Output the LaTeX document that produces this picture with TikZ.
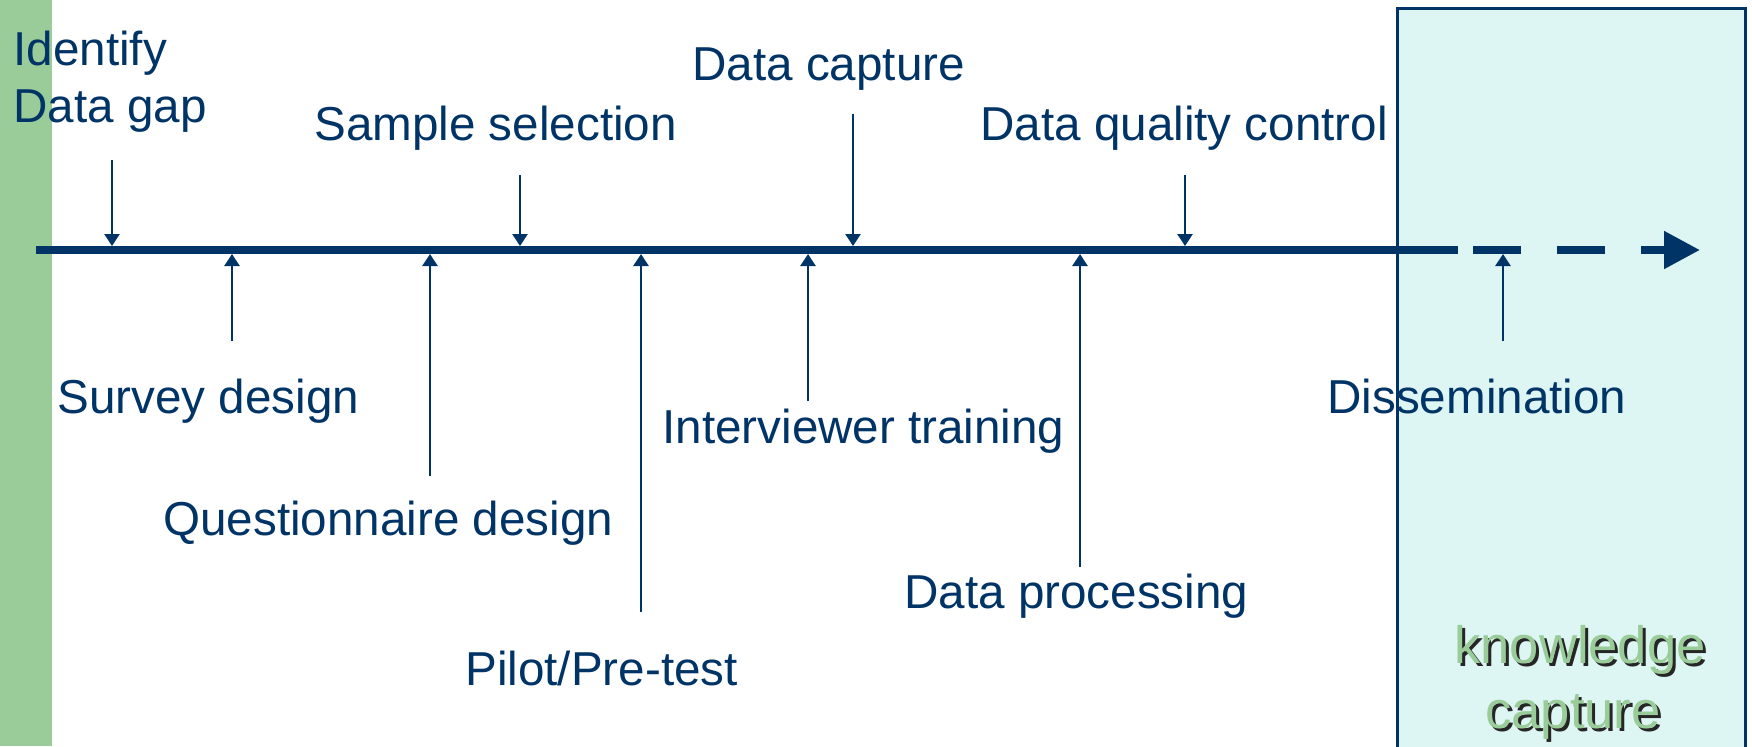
\documentclass[tikz,border=0pt]{standalone}
\usepackage{fontspec}
\setmainfont{Liberation Sans}
\usetikzlibrary{arrows.meta}
\definecolor{navy}{HTML}{003366}
\definecolor{bandgreen}{HTML}{99CC99}
\definecolor{boxfill}{HTML}{DDF5F3}
\tikzset{
  lbl/.style={anchor=base west, inner sep=0pt, text=navy, font=\fontsize{23.8}{28}\selectfont},
  kc/.style={anchor=base, inner sep=0pt, font=\fontsize{26.3}{30}\selectfont},
  pointer/.style={draw=navy, line width=1.35pt, -{Triangle[length=6pt,width=7.5pt]}},
  mainline/.style={draw=navy, line width=4pt},
}
\begin{document}
\begin{tikzpicture}[x=0.5pt,y=-0.5pt]
\useasboundingbox (0,0) rectangle (1752,746);
\fill[white] (0,0) rectangle (1752,746);
% green band
\fill[bandgreen] (0,0) rectangle (52,746);
% knowledge capture box
\filldraw[fill=boxfill, draw=navy, line width=1.5pt] (1397,8) rectangle (1745,770);

% timeline
\coordinate (L0) at (36,250);
\coordinate (L1) at (1458,250);
\draw[mainline] (L0) -- (L1);
\coordinate (D1a) at (1473,250); \coordinate (D1b) at (1521,250);
\coordinate (D2a) at (1557,250); \coordinate (D2b) at (1605,250);
\coordinate (D3a) at (1641,250); \coordinate (D3b) at (1700,250);
\draw[mainline] (D1a) -- (D1b);
\draw[mainline] (D2a) -- (D2b);
\draw[mainline, -{Triangle[length=18pt,width=18pt]}] (D3a) -- (D3b);

% labels above
\node[lbl] (idA) at (13,65) {Identify};
\node[lbl] (idB) at (13,122) {Data gap};
\node[lbl] (samp) at (314,140) {Sample selection};
\node[lbl] (capt) at (692,80) {Data capture};
\node[lbl] (qual) at (980,140) {Data quality control};
% labels below
\node[lbl] (surv) at (57,413) {Survey design};
\node[lbl] (quest) at (163,535) {Questionnaire design};
\node[lbl] (pilot) at (465,685) {Pilot/Pre-test};
\node[lbl] (intv) at (662,443) {Interviewer training};
\node[lbl] (proc) at (904,608) {Data processing};
\node[lbl] (diss) at (1327,413) {Dissemination};

% knowledge capture text with shadow
\node[kc, text=black!85] at (1583,666) {knowledge};
\node[kc, text=black!85] at (1576,731) {capture};
\node[kc, text=bandgreen] (know) at (1580,663) {knowledge};
\node[kc, text=bandgreen] (kcap) at (1573,728) {capture};

% pointers from above
\coordinate (sA) at (112,160); \coordinate (tA) at (112,246);
\coordinate (sS) at (520,175); \coordinate (tS) at (520,246);
\coordinate (sC) at (853,114); \coordinate (tC) at (853,246);
\coordinate (sQ) at (1185,175); \coordinate (tQ) at (1185,246);
\draw[pointer] (sA) -- (tA);
\draw[pointer] (sS) -- (tS);
\draw[pointer] (sC) -- (tC);
\draw[pointer] (sQ) -- (tQ);
% pointers from below
\coordinate (uSv) at (232,341); \coordinate (vSv) at (232,254);
\coordinate (uQd) at (430,476); \coordinate (vQd) at (430,254);
\coordinate (uPt) at (641,612); \coordinate (vPt) at (641,254);
\coordinate (uIt) at (808,401); \coordinate (vIt) at (808,254);
\coordinate (uDp) at (1080,567); \coordinate (vDp) at (1080,254);
\coordinate (uDs) at (1503,341); \coordinate (vDs) at (1503,254);
\draw[pointer] (uSv) -- (vSv);
\draw[pointer] (uQd) -- (vQd);
\draw[pointer] (uPt) -- (vPt);
\draw[pointer] (uIt) -- (vIt);
\draw[pointer] (uDp) -- (vDp);
\draw[pointer] (uDs) -- (vDs);
\end{tikzpicture}
\end{document}
